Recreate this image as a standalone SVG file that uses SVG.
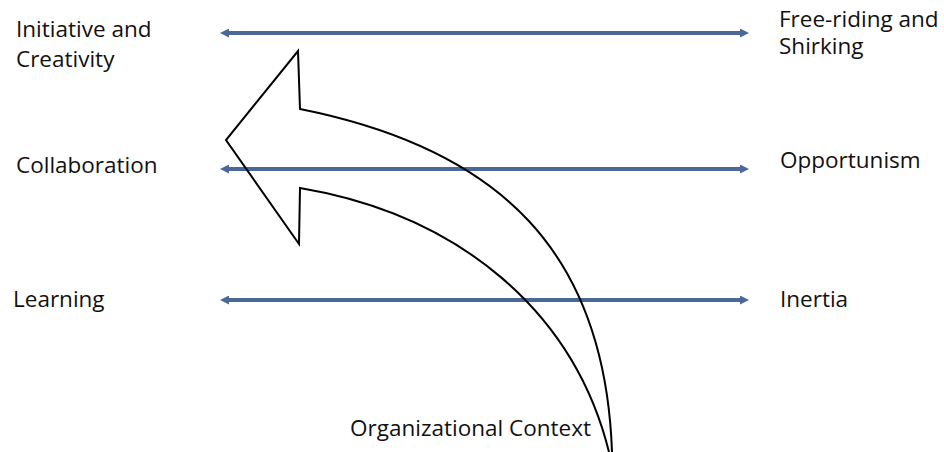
<svg xmlns="http://www.w3.org/2000/svg" width="944" height="452" viewBox="0 0 944 452">
  <style>
    .lbl { font-family: "Open Sans", "Liberation Sans", sans-serif; font-size: 22.5px; fill: #111; }
    .link { stroke: #4A6898; stroke-width: 4; fill: none; marker-start: url(#tip); marker-end: url(#tip); }
    .bend { stroke: #000; stroke-width: 2; fill: none; stroke-linejoin: miter; }
  </style>
  <defs>
    <marker id="tip" viewBox="0 0 10 10" refX="0" refY="5" markerWidth="9" markerHeight="9" markerUnits="userSpaceOnUse" orient="auto-start-reverse">
      <path d="M0,0 L10,5 L0,10 z" fill="#4A6898"/>
    </marker>
  </defs>
  <rect width="944" height="452" fill="#fff"/>

  <!-- two-headed tension lines between paired outcomes -->
  <g id="connectors">
    <line class="link" x1="229" y1="33" x2="740" y2="33"/>
    <line class="link" x1="229" y1="169" x2="740" y2="169"/>
    <line class="link" x1="229" y1="300" x2="740" y2="300"/>
  </g>

  <!-- left-hand outcomes -->
  <g id="initiative">
    <text class="lbl" x="16" y="37">Initiative and<tspan x="16" y="67">Creativity</tspan></text>
  </g>
  <g id="collaboration">
    <text class="lbl" x="16" y="173">Collaboration</text>
  </g>
  <g id="learning">
    <text class="lbl" x="13" y="307">Learning</text>
  </g>

  <!-- right-hand outcomes -->
  <g id="freeriding">
    <text class="lbl" x="779" y="27">Free-riding and<tspan x="779" y="53.5">Shirking</tspan></text>
  </g>
  <g id="opportunism">
    <text class="lbl" x="780" y="168">Opportunism</text>
  </g>
  <g id="inertia">
    <text class="lbl" x="780" y="307">Inertia</text>
  </g>

  <!-- curved arrow rising from the organizational context -->
  <g id="context-arrow">
    <path class="bend" d="M611,458 L612,452 C605,252 500,149 300,109 L298,51 L226,140 L299,244 L300,188 C460,215 574,312 609,452 L611,458"/>
  </g>
  <g id="context">
    <text class="lbl" x="350" y="436">Organizational Context</text>
  </g>
</svg>
